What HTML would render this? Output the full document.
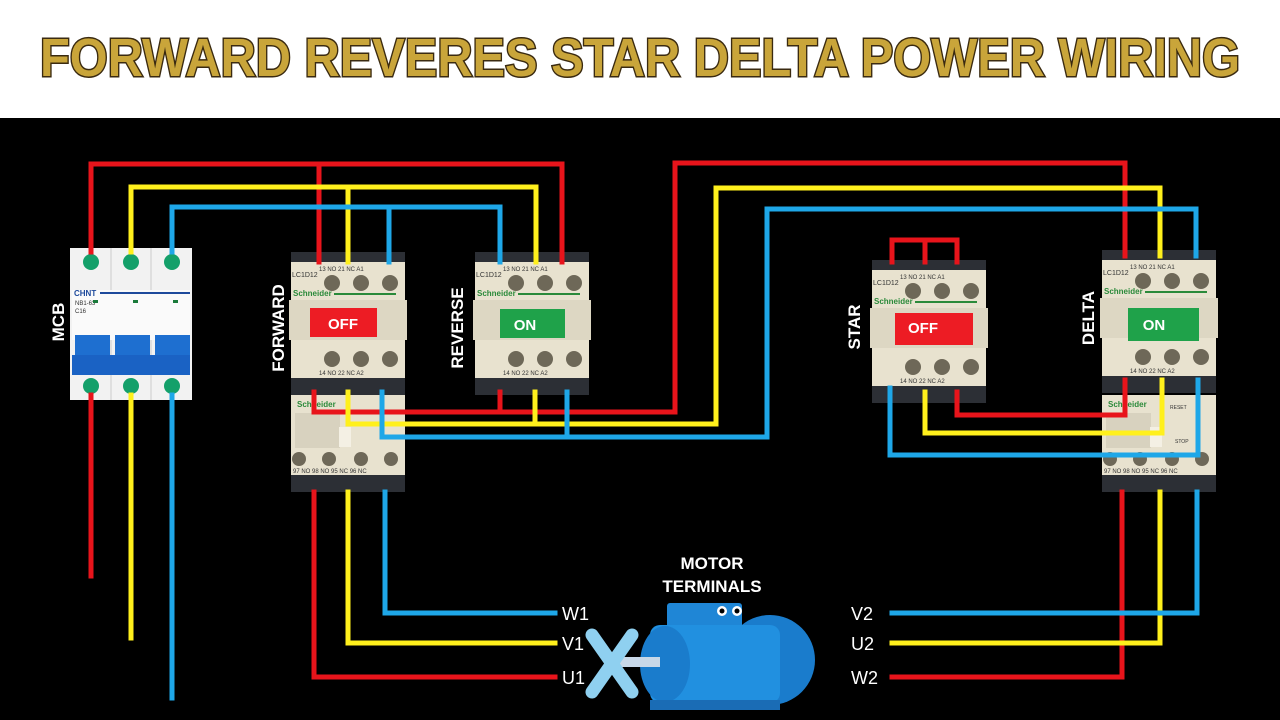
<!DOCTYPE html>
<html><head><meta charset="utf-8"><style>
html,body{margin:0;padding:0;background:#000;}
svg{display:block;}
text{font-family:"Liberation Sans",sans-serif;}
</style></head><body>
<svg width="1280" height="720" viewBox="0 0 1280 720" xmlns="http://www.w3.org/2000/svg">
<rect x="0" y="0" width="1280" height="118" fill="#fff"/>
<rect x="0" y="118" width="1280" height="602" fill="#000"/>
<text x="640" y="76" text-anchor="middle" font-size="54" font-weight="bold" fill="#c9a53a" stroke="#3a2a10" stroke-width="3" paint-order="stroke" textLength="1200" lengthAdjust="spacingAndGlyphs">FORWARD REVERES STAR DELTA POWER WIRING</text>

<!-- MCB -->
<g>
<rect x="70" y="248" width="122" height="152" fill="#f2f2f2"/>
<line x1="111" y1="248" x2="111" y2="400" stroke="#ccc"/>
<line x1="151" y1="248" x2="151" y2="400" stroke="#ccc"/>
<rect x="72" y="290" width="118" height="50" fill="#fafafa"/>
<text x="74" y="296" font-size="8" font-weight="bold" fill="#1e4a9c">CHNT</text>
<line x1="100" y1="293" x2="190" y2="293" stroke="#1e4a9c" stroke-width="2"/>
<text x="75" y="305" font-size="6" fill="#333">NB1-63</text>
<text x="75" y="313" font-size="6" fill="#333">C16</text>
<rect x="93" y="300" width="5" height="3" fill="#1a7a3a"/>
<rect x="133" y="300" width="5" height="3" fill="#1a7a3a"/>
<rect x="173" y="300" width="5" height="3" fill="#1a7a3a"/>
<rect x="75" y="335" width="35" height="25" fill="#1e6fd0"/>
<rect x="115" y="335" width="35" height="25" fill="#1e6fd0"/>
<rect x="155" y="335" width="35" height="25" fill="#1e6fd0"/>
<rect x="72" y="355" width="118" height="20" fill="#1a62c4"/>
<circle cx="91" cy="262" r="8" fill="#14a06a"/><circle cx="131" cy="262" r="8" fill="#14a06a"/><circle cx="172" cy="262" r="8" fill="#14a06a"/>
<circle cx="91" cy="386" r="8" fill="#14a06a"/><circle cx="131" cy="386" r="8" fill="#14a06a"/><circle cx="172" cy="386" r="8" fill="#14a06a"/>
</g>

<!-- contactors -->
<g font-size="6" fill="#333">
<g transform="translate(289,252)">
<rect x="2" y="0" width="114" height="14" fill="#2c2f35"/>
<rect x="2" y="10" width="114" height="116" fill="#e8e2cf"/>
<text x="30" y="19">13  NO  21  NC  A1</text><text x="3" y="25" font-size="7">LC1D12</text>
<circle cx="43" cy="31" r="8" fill="#6e6858"/><circle cx="72" cy="31" r="8" fill="#6e6858"/><circle cx="101" cy="31" r="8" fill="#6e6858"/>
<text x="4" y="44" font-size="8" font-weight="bold" fill="#2a8a3a">Schneider</text><rect x="45" y="41" width="62" height="2" fill="#2a8a3a"/>
<rect x="0" y="48" width="118" height="40" fill="#ddd7c3"/>
<rect x="21" y="56" width="67" height="29" fill="#ed1c24"/>
<text x="54" y="77" font-size="15" font-weight="bold" fill="#fff" text-anchor="middle">OFF</text>
<circle cx="43" cy="107" r="8" fill="#6e6858"/><circle cx="72" cy="107" r="8" fill="#6e6858"/><circle cx="101" cy="107" r="8" fill="#6e6858"/>
<text x="30" y="123">14  NO  22  NC  A2</text>
<rect x="2" y="126" width="114" height="17" fill="#2c2f35"/>
</g>
<g transform="translate(289,395)">
<rect x="2" y="0" width="114" height="84" fill="#e8e2cf"/>
<text x="8" y="12" font-size="8" font-weight="bold" fill="#2a8a3a">Schneider</text>
<rect x="6" y="18" width="45" height="35" fill="#d8d2bf"/>
<rect x="50" y="32" width="12" height="20" fill="#f4f0e4"/>
<circle cx="10" cy="64" r="7" fill="#6e6858"/><circle cx="40" cy="64" r="7" fill="#6e6858"/><circle cx="72" cy="64" r="7" fill="#6e6858"/><circle cx="102" cy="64" r="7" fill="#6e6858"/>
<text x="4" y="78">97 NO  98 NO  95 NC  96 NC</text>
<rect x="2" y="80" width="114" height="17" fill="#2c2f35"/>
</g>
<g transform="translate(473,252)">
<rect x="2" y="0" width="114" height="14" fill="#2c2f35"/>
<rect x="2" y="10" width="114" height="116" fill="#e8e2cf"/>
<text x="30" y="19">13  NO  21  NC  A1</text><text x="3" y="25" font-size="7">LC1D12</text>
<circle cx="43" cy="31" r="8" fill="#6e6858"/><circle cx="72" cy="31" r="8" fill="#6e6858"/><circle cx="101" cy="31" r="8" fill="#6e6858"/>
<text x="4" y="44" font-size="8" font-weight="bold" fill="#2a8a3a">Schneider</text><rect x="45" y="41" width="62" height="2" fill="#2a8a3a"/>
<rect x="0" y="48" width="118" height="40" fill="#ddd7c3"/>
<rect x="27" y="57" width="65" height="29" fill="#1fa24a"/>
<text x="52" y="78" font-size="15" font-weight="bold" fill="#fff" text-anchor="middle">ON</text>
<circle cx="43" cy="107" r="8" fill="#6e6858"/><circle cx="72" cy="107" r="8" fill="#6e6858"/><circle cx="101" cy="107" r="8" fill="#6e6858"/>
<text x="30" y="123">14  NO  22  NC  A2</text>
<rect x="2" y="126" width="114" height="17" fill="#2c2f35"/>
</g>
<g transform="translate(870,260)">
<rect x="2" y="0" width="114" height="14" fill="#2c2f35"/>
<rect x="2" y="10" width="114" height="116" fill="#e8e2cf"/>
<text x="30" y="19">13  NO  21  NC  A1</text><text x="3" y="25" font-size="7">LC1D12</text>
<circle cx="43" cy="31" r="8" fill="#6e6858"/><circle cx="72" cy="31" r="8" fill="#6e6858"/><circle cx="101" cy="31" r="8" fill="#6e6858"/>
<text x="4" y="44" font-size="8" font-weight="bold" fill="#2a8a3a">Schneider</text><rect x="45" y="41" width="62" height="2" fill="#2a8a3a"/>
<rect x="0" y="48" width="118" height="40" fill="#ddd7c3"/>
<rect x="25" y="53" width="78" height="32" fill="#ed1c24"/>
<text x="53" y="73" font-size="15" font-weight="bold" fill="#fff" text-anchor="middle">OFF</text>
<circle cx="43" cy="107" r="8" fill="#6e6858"/><circle cx="72" cy="107" r="8" fill="#6e6858"/><circle cx="101" cy="107" r="8" fill="#6e6858"/>
<text x="30" y="123">14  NO  22  NC  A2</text>
<rect x="2" y="126" width="114" height="17" fill="#2c2f35"/>
</g>
<g transform="translate(1100,250)">
<rect x="2" y="0" width="114" height="14" fill="#2c2f35"/>
<rect x="2" y="10" width="114" height="116" fill="#e8e2cf"/>
<text x="30" y="19">13  NO  21  NC  A1</text><text x="3" y="25" font-size="7">LC1D12</text>
<circle cx="43" cy="31" r="8" fill="#6e6858"/><circle cx="72" cy="31" r="8" fill="#6e6858"/><circle cx="101" cy="31" r="8" fill="#6e6858"/>
<text x="4" y="44" font-size="8" font-weight="bold" fill="#2a8a3a">Schneider</text><rect x="45" y="41" width="62" height="2" fill="#2a8a3a"/>
<rect x="0" y="48" width="118" height="40" fill="#ddd7c3"/>
<rect x="28" y="58" width="71" height="33" fill="#1fa24a"/>
<text x="54" y="80" font-size="15" font-weight="bold" fill="#fff" text-anchor="middle">ON</text>
<circle cx="43" cy="107" r="8" fill="#6e6858"/><circle cx="72" cy="107" r="8" fill="#6e6858"/><circle cx="101" cy="107" r="8" fill="#6e6858"/>
<text x="30" y="123">14  NO  22  NC  A2</text>
<rect x="2" y="126" width="114" height="17" fill="#2c2f35"/>
</g>
<g transform="translate(1100,395)">
<rect x="2" y="0" width="114" height="84" fill="#e8e2cf"/>
<text x="8" y="12" font-size="8" font-weight="bold" fill="#2a8a3a">Schneider</text>
<text x="70" y="14" font-size="5">RESET</text>
<text x="75" y="48" font-size="5">STOP</text>
<rect x="6" y="18" width="45" height="35" fill="#d8d2bf"/>
<rect x="50" y="32" width="12" height="20" fill="#f4f0e4"/>
<circle cx="10" cy="64" r="7" fill="#6e6858"/><circle cx="40" cy="64" r="7" fill="#6e6858"/><circle cx="72" cy="64" r="7" fill="#6e6858"/><circle cx="102" cy="64" r="7" fill="#6e6858"/>
<text x="4" y="78">97 NO  98 NO  95 NC  96 NC</text>
<rect x="2" y="80" width="114" height="17" fill="#2c2f35"/>
</g>
</g>

<!-- wires -->
<g fill="none" stroke-width="5" stroke-linejoin="miter" stroke-linecap="square">
<!-- supply -->
<polyline stroke="#e8141b" points="91,252 91,164 562,164 562,262"/>
<polyline stroke="#e8141b" points="319,164 319,262"/>
<polyline stroke="#fff01c" points="131,252 131,187 536,187 536,262"/>
<polyline stroke="#fff01c" points="348,187 348,262"/>
<polyline stroke="#1ea7e8" points="172,252 172,207 500,207 500,262"/>
<polyline stroke="#1ea7e8" points="389,207 389,262"/>
<!-- MCB outs -->
<polyline stroke="#e8141b" points="91,395 91,576"/>
<polyline stroke="#fff01c" points="131,395 131,638"/>
<polyline stroke="#1ea7e8" points="172,395 172,698"/>
<!-- fwd/rev outputs to delta -->
<polyline stroke="#e8141b" points="314,392 314,412 675,412 675,163 1125,163 1125,256"/>
<polyline stroke="#e8141b" points="500,392 500,412"/>
<polyline stroke="#fff01c" points="348,392 348,424 716,424 716,188 1160,188 1160,256"/>
<polyline stroke="#fff01c" points="535,392 535,424"/>
<polyline stroke="#1ea7e8" points="382,392 382,437 767,437 767,209 1196,209 1196,256"/>
<polyline stroke="#1ea7e8" points="567,392 567,437"/>
<!-- star -->
<polyline stroke="#e8141b" points="892,262 892,240 957,240 957,262"/>
<polyline stroke="#e8141b" points="925,240 925,262"/>
<polyline stroke="#1ea7e8" points="890,388 890,455 1198,455 1198,380"/>
<polyline stroke="#fff01c" points="925,392 925,433 1162,433 1162,380"/>
<polyline stroke="#e8141b" points="957,392 957,415 1125,415 1125,380"/>
<!-- motor lines -->
<polyline stroke="#e8141b" points="314,492 314,677 555,677"/>
<polyline stroke="#fff01c" points="348,492 348,643 555,643"/>
<polyline stroke="#1ea7e8" points="385,492 385,613 555,613"/>
<polyline stroke="#e8141b" points="1122,492 1122,677 892,677"/>
<polyline stroke="#fff01c" points="1160,492 1160,643 892,643"/>
<polyline stroke="#1ea7e8" points="1197,492 1197,613 892,613"/>
</g>

<!-- motor -->
<g>
<rect x="667" y="603" width="75" height="30" rx="3" fill="#1f86d6"/>
<ellipse cx="770" cy="660" rx="45" ry="45" fill="#1a7ccc"/>
<rect x="650" y="625" width="130" height="78" rx="10" fill="#2190e0"/>
<ellipse cx="665" cy="664" rx="25" ry="38" fill="#1a7ccc"/>
<rect x="610" y="657" width="50" height="10" fill="#c8d8e8"/>
<g stroke="#8fd0f0" stroke-width="13" stroke-linecap="round">
<line x1="592" y1="635" x2="632" y2="692"/>
<line x1="592" y1="692" x2="632" y2="635"/>
</g>
<circle cx="722" cy="611" r="5" fill="#fff"/><circle cx="737" cy="611" r="5" fill="#fff"/>
<circle cx="722" cy="611" r="2.5" fill="#000"/><circle cx="737" cy="611" r="2.5" fill="#000"/>
<rect x="650" y="700" width="130" height="10" fill="#1a6cb5"/>
</g>

<!-- labels -->
<g fill="#fff" font-weight="bold" font-size="17">
<text x="712" y="569" text-anchor="middle">MOTOR</text>
<text x="712" y="592" text-anchor="middle">TERMINALS</text>
</g>
<g fill="#fff" font-size="18">
<text x="562" y="620">W1</text><text x="562" y="650">V1</text><text x="562" y="684">U1</text>
<text x="851" y="620">V2</text><text x="851" y="650">U2</text><text x="851" y="684">W2</text>
</g>
<g fill="#fff" font-weight="bold" font-size="17">
<text transform="translate(64,322) rotate(-90)" text-anchor="middle">MCB</text>
<text transform="translate(284,328) rotate(-90)" text-anchor="middle">FORWARD</text>
<text transform="translate(463,328) rotate(-90)" text-anchor="middle">REVERSE</text>
<text transform="translate(860,327) rotate(-90)" text-anchor="middle">STAR</text>
<text transform="translate(1094,318) rotate(-90)" text-anchor="middle">DELTA</text>
</g>
</svg>
</body></html>
